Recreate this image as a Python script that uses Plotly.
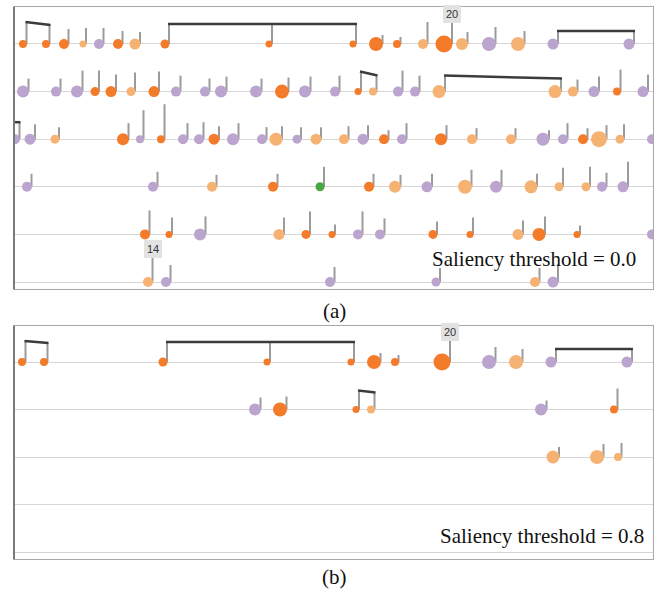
import plotly.graph_objects as go

W, H = 659, 592
COLORS = {"D": "#F47B2A", "L": "#F5B273", "P": "#BBA4CD", "G": "#4BA547"}
FONT_SERIF = "Liberation Serif, Times New Roman, serif"

# ---------------- Panel (a): saliency threshold = 0.0 ----------------
# row index, onset (x), colour class, note size (diameter), stem length (px)
a_row = [0]*19 + [1]*24 + [2]*27 + [3]*15 + [4]*14 + [5]*6
a_x = [
    23, 46, 64, 83, 99, 118, 135, 165, 269, 353, 376, 397, 423, 444, 462, 489, 518, 553, 629,
    23, 56, 77, 95, 111, 131, 154, 176, 205, 221, 256, 282, 305, 335, 358, 373, 398, 415, 439, 555, 573, 594, 617, 643,
    15, 30, 55, 123, 140, 161, 183, 199, 214, 233, 262, 276, 297, 316, 344, 363, 384, 402, 441, 472, 511, 543, 563, 583, 599, 620, 652,
    27, 153, 212, 273, 320, 369, 395, 427, 465, 496, 531, 559, 586, 602, 623,
    145, 169, 200, 279, 306, 332, 358, 380, 433, 470, 518, 539, 577, 652,
    148, 166, 330, 436, 535, 553,
]
a_kind = [
    "D", "D", "D", "L", "P", "D", "L", "D", "D", "D", "D", "D", "L", "D", "L", "P", "L", "P", "P",
    "P", "P", "P", "D", "D", "L", "D", "P", "P", "P", "P", "D", "P", "P", "D", "L", "P", "P", "L", "L", "L", "P", "D", "P",
    "P", "P", "L", "D", "P", "D", "P", "P", "D", "P", "P", "L", "P", "L", "L", "P", "D", "P", "D", "L", "L", "P", "P", "D", "L", "L", "P",
    "P", "P", "L", "D", "G", "D", "L", "P", "L", "P", "L", "L", "L", "P", "P",
    "D", "D", "P", "L", "D", "D", "P", "P", "D", "D", "L", "D", "D", "P",
    "L", "P", "P", "P", "L", "P",
]
a_size = [
    8, 8, 10, 7, 10, 10, 11, 9, 7, 7, 14, 8, 10, 17, 12, 14, 14, 11, 11,
    12, 10, 12, 9, 11, 9, 11, 10, 10, 12, 12, 14, 12, 10, 7, 8, 10, 10, 13, 13, 10, 11, 8, 11,
    10, 11, 9, 12, 8, 8, 10, 10, 11, 12, 10, 13, 9, 11, 10, 11, 10, 10, 12, 10, 10, 13, 10, 10, 16, 9, 10,
    10, 10, 10, 10, 9, 10, 12, 11, 14, 12, 13, 9, 9, 10, 11,
    10, 7, 12, 11, 9, 7, 10, 10, 9, 7, 11, 13, 7, 10,
    10, 10, 10, 9, 10, 11,
]
a_stem = [
    22, 19, 15, 16, 16, 13, 12, 20, 19, 20, 9, 7, 22, 21, 12, 17, 13, 13, 13,
    13, 13, 21, 21, 17, 19, 20, 16, 13, 15, 13, 14, 15, 16, 20, 16, 21, 16, 16, 13, 12, 15, 22, 17,
    17, 15, 12, 16, 29, 35, 16, 17, 13, 16, 12, 13, 12, 12, 13, 14, 9, 16, 14, 11, 11, 9, 16, 11, 14, 15, 0,
    13, 15, 12, 13, 20, 13, 12, 13, 17, 17, 13, 19, 20, 14, 25,
    24, 17, 18, 17, 23, 10, 23, 16, 13, 17, 14, 18, 9, 0,
    24, 17, 15, 14, 14, 18,
]
# beams: (row, first onset, last onset)
a_beams = [(0, 23, 46), (0, 165, 353), (0, 553, 629), (1, 358, 373), (1, 439, 555)]
# beams continuing from the previous system: (row, onset)
a_beam_in = [(2, 15)]
# count labels: (row, onset, text)
a_labels = [(0, 444, "20"), (5, 148, "14")]

# ---------------- Panel (b): saliency threshold = 0.8 ----------------
b_row = [0]*12 + [1]*6 + [2]*3
b_x = [
    22, 44, 163, 267, 351, 374, 395, 442, 489, 516, 551, 627,
    255, 280, 356, 371, 541, 614,
    553, 597, 618,
]
b_kind = [
    "D", "D", "D", "D", "D", "D", "D", "D", "P", "L", "P", "P",
    "P", "D", "D", "L", "P", "D",
    "L", "L", "L",
]
b_size = [
    8, 8, 9, 7, 7, 14, 8, 17, 14, 14, 11, 11,
    12, 14, 7, 8, 12, 8,
    13, 14, 8,
]
b_stem = [
    21, 19, 20, 20, 20, 9, 7, 21, 15, 13, 13, 13,
    12, 13, 19, 17, 9, 21,
    10, 13, 14,
]
b_beams = [(0, 22, 44), (0, 163, 351), (0, 551, 627), (1, 356, 371)]
b_beam_in = []
b_labels = [(0, 442, "20")]

# ---------------- layout geometry (panels) ----------------
X_LEFT, X_RIGHT = 14, 653
PANELS = {
    "a": dict(top=7, bottom=289, rows=6, yr=[5.147, -0.777]),
    "b": dict(top=326, bottom=559, rows=5, yr=[4.147, -0.758]),
}

fig = go.Figure()


def add_panel(suffix, rows, xs, kinds, sizes, stems, beams, beam_in, labels, geom):
    xref = "x" + suffix
    yref = "y" + suffix
    ppr = (geom["bottom"] - geom["top"]) / (geom["yr"][0] - geom["yr"][1])
    note = {}
    for r, x, k, s, st in zip(rows, xs, kinds, sizes, stems):
        sx = x + s / 2 - 0.5
        note[(r, x)] = (sx, r - st / ppr, r, st)
    # stems
    sx_l, sy_l = [], []
    for (r, x), (sx, top, row, st) in note.items():
        if st > 0:
            sx_l += [sx, sx, None]
            sy_l += [row, top, None]
    fig.add_trace(go.Scatter(x=sx_l, y=sy_l, mode="lines", xaxis=xref, yaxis=yref,
                             line=dict(color="#9b9b9b", width=2), hoverinfo="skip"))
    # beams
    bx, by = [], []
    for r, x0, x1 in beams:
        a0, a1 = note[(r, x0)], note[(r, x1)]
        bx += [a0[0] - 1, a1[0] + 1, None]
        by += [a0[1], a1[1], None]
    for r, x0 in beam_in:
        a0 = note[(r, x0)]
        bx += [X_LEFT - 10, a0[0] + 1, None]
        by += [a0[1], a0[1], None]
    fig.add_trace(go.Scatter(x=bx, y=by, mode="lines", xaxis=xref, yaxis=yref,
                             line=dict(color="#3c3c3c", width=2.5), hoverinfo="skip"))
    # notes
    fig.add_trace(go.Scatter(x=xs, y=rows, mode="markers", xaxis=xref, yaxis=yref,
                             marker=dict(size=sizes, color=[COLORS[k] for k in kinds],
                                         line=dict(width=0), opacity=1),
                             hoverinfo="skip"))
    # count labels
    for r, x, t in labels:
        sx, top, row, st = note[(r, x)]
        fig.add_annotation(x=sx, y=top, xref=xref, yref=yref, text=t, showarrow=False,
                           yanchor="bottom", xanchor="center",
                           font=dict(family="Arial, Liberation Sans, sans-serif", size=11, color="#333"),
                           bgcolor="#e2e2e2", bordercolor="#e2e2e2", borderpad=1, borderwidth=2)


add_panel("", a_row, a_x, a_kind, a_size, a_stem, a_beams, a_beam_in, a_labels, PANELS["a"])
add_panel("2", b_row, b_x, b_kind, b_size, b_stem, b_beams, b_beam_in, b_labels, PANELS["b"])


def axis_x(anchor):
    return dict(domain=[X_LEFT / W, X_RIGHT / W], range=[X_LEFT, X_RIGHT], anchor=anchor,
                showgrid=False, zeroline=False, showticklabels=False, ticks="",
                showline=True, mirror=True, linecolor="#a8a8a8", linewidth=1.2, fixedrange=True)


def axis_y(geom, anchor):
    return dict(domain=[1 - geom["bottom"] / H, 1 - geom["top"] / H], range=geom["yr"], anchor=anchor,
                tickvals=list(range(geom["rows"])), showticklabels=False, ticks="",
                showgrid=True, gridcolor="#d6d6d6", gridwidth=1, zeroline=False,
                showline=True, mirror=True, linecolor="#a8a8a8", linewidth=1.2, fixedrange=True)


fig.update_layout(
    width=W, height=H, margin=dict(l=0, r=0, t=0, b=0),
    paper_bgcolor="white", plot_bgcolor="white", showlegend=False,
    xaxis=axis_x("y"), yaxis=axis_y(PANELS["a"], "x"),
    xaxis2=axis_x("y2"), yaxis2=axis_y(PANELS["b"], "x2"),
)

# darker left frame edges
for g in PANELS.values():
    fig.add_shape(type="line", xref="paper", yref="paper",
                  x0=X_LEFT / W, x1=X_LEFT / W, y0=1 - g["bottom"] / H, y1=1 - g["top"] / H,
                  line=dict(color="#7a7a7a", width=2))

serif = dict(family=FONT_SERIF, size=21, color="#111")
fig.add_annotation(x=638 / W, y=1 - 259 / H, xref="paper", yref="paper", text="Saliency threshold = 0.0",
                   showarrow=False, xanchor="right", yanchor="middle", font=serif)
fig.add_annotation(x=646 / W, y=1 - 536 / H, xref="paper", yref="paper", text="Saliency threshold = 0.8",
                   showarrow=False, xanchor="right", yanchor="middle", font=serif)
fig.add_annotation(x=334 / W, y=1 - 311 / H, xref="paper", yref="paper", text="(a)",
                   showarrow=False, xanchor="center", yanchor="middle", font=serif)
fig.add_annotation(x=334 / W, y=1 - 577 / H, xref="paper", yref="paper", text="(b)",
                   showarrow=False, xanchor="center", yanchor="middle", font=serif)

fig.write_html("out.html", config={"displayModeBar": False, "staticPlot": True},
               post_script="document.body.style.margin='0';document.body.style.overflow='hidden';")
